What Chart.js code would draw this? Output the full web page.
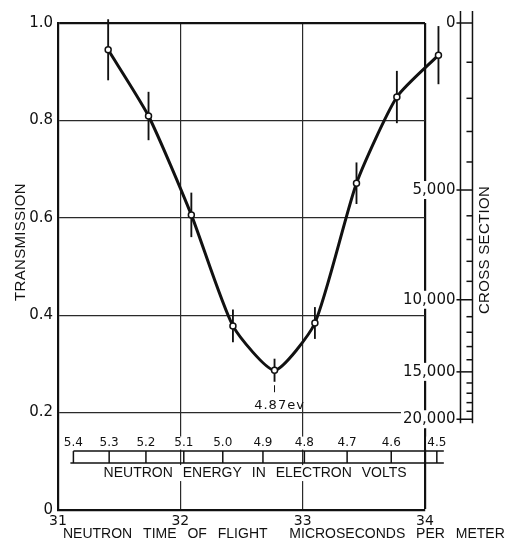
<!DOCTYPE html>
<html>
<head>
<meta charset="utf-8">
<script src="https://cdn.jsdelivr.net/npm/chart.js@4.4.1/dist/chart.umd.min.js"></script>
<style>
  html, body { margin: 0; padding: 0; background: #fff; }
</style>
</head>
<body>
<canvas id="chart" width="506" height="543"></canvas>
<script>
// ── DATA ──
const flightTimes  = [31.41, 31.74, 32.09, 32.43, 32.77, 33.10, 33.44, 33.77, 34.11];
const transmission = [0.945, 0.809, 0.606, 0.378, 0.287, 0.384, 0.671, 0.848, 0.934];
const errorHalf    = [0.062, 0.049, 0.045, 0.033, 0.023, 0.032, 0.042, 0.053, 0.059];

const timeTicks   = [31, 32, 33, 34];
const transTicks  = [0, 0.2, 0.4, 0.6, 0.8, 1.0];
const energyTicks = [5.4, 5.3, 5.2, 5.1, 5.0, 4.9, 4.8, 4.7, 4.6, 4.5];
const sigmaMajor  = [0, 5000, 10000, 15000, 20000];
const sigmaMinor  = [1000, 2000, 3000, 4000, 6000, 7000, 8000, 9000,
                     11000, 12000, 13000, 14000, 16000, 17000, 18000, 19000];
const resonanceLabel = '4.87ev';

// time of flight (us/m) = TOF_K / sqrt(E in eV);  T = exp(-SIGMA_K * sigma)
const TOF_K = 72.33;
const SIGMA_K = 8.4e-5;
const energyToTime = e => TOF_K / Math.sqrt(e);
const sigmaToTrans = s => Math.exp(-SIGMA_K * s);

// where the two extra scales sit
const SIGMA_AXIS_AT = 34.29;   // on the time axis
const ENERGY_AXIS_AT = 0.121;  // on the transmission axis

const INK = '#111';
const GRID = '#2a2a2a';

// points past the frame (x > 34) are skipped by Chart.js, draw them here
const outsidePoints = {
  id: 'outsidePoints',
  afterDatasetsDraw(chart) {
    const area = chart.chartArea;
    const meta = chart.getDatasetMeta(0);
    meta.data.forEach(pt => {
      if (pt.x > area.right || pt.x < area.left || pt.y < area.top || pt.y > area.bottom) pt.draw(chart.ctx);
    });
  }
};

// ── extra scales: energy ladder, cross-section ladder, titles ──
const auxAxes = {
  id: 'auxAxes',
  afterDraw(chart) {
    const { ctx, chartArea: area, scales: { x, y } } = chart;
    const seg = (x1, y1, x2, y2) => { ctx.beginPath(); ctx.moveTo(x1, y1); ctx.lineTo(x2, y2); ctx.stroke(); };
    const boxedText = (txt, px, py, pad, h) => {
      const w = ctx.measureText(txt).width;
      let left = px;
      if (ctx.textAlign === 'center') left = px - w / 2;
      else if (ctx.textAlign === 'right') left = px - w;
      ctx.fillStyle = '#fff';
      ctx.fillRect(left - pad, py - h / 2, w + pad * 2, h);
      ctx.fillStyle = INK;
      ctx.fillText(txt, px, py);
    };

    ctx.save();
    ctx.strokeStyle = INK;
    ctx.fillStyle = INK;
    ctx.lineWidth = 1.5;

    // cross section scale
    const xl = x.getPixelForValue(SIGMA_AXIS_AT);
    const xr = xl + 12;
    const ys = s => y.getPixelForValue(sigmaToTrans(s));
    const top = ys(0) - 12, bot = ys(20000) + 4;
    ctx.font = '15px "DejaVu Sans"';
    ctx.textAlign = 'right';
    ctx.textBaseline = 'middle';
    sigmaMajor.forEach(s => boxedText(s.toLocaleString('en-US'), xl - 5, ys(s), 2, 18));
    seg(xl, top, xl, bot);
    seg(xr, top, xr, bot);
    sigmaMinor.forEach(s => seg(xr - 6, ys(s), xr, ys(s)));
    sigmaMajor.forEach(s => seg(xl - 4, ys(s), xr, ys(s)));

    // energy scale
    const yu = y.getPixelForValue(ENERGY_AXIS_AT);
    const yl = yu + 12;
    const xe = e => x.getPixelForValue(energyToTime(e));
    const e0 = xe(energyTicks[0]), e1 = xe(energyTicks[energyTicks.length - 1]);
    ctx.font = '12px "DejaVu Sans"';
    ctx.textAlign = 'center';
    energyTicks.forEach(e => boxedText(e.toFixed(1), xe(e), yu - 8, 1, 13));
    ctx.font = '14px "Liberation Sans"';
    ctx.wordSpacing = '6px';
    boxedText('NEUTRON ENERGY IN ELECTRON VOLTS', (e0 + e1) / 2, yl + 10, 3, 16);
    ctx.wordSpacing = '0px';
    seg(e0, yu, e1 + 7, yu);
    seg(e0 - 3, yl, e1 + 7, yl);
    energyTicks.forEach(e => seg(xe(e), yu, xe(e), yl));

    // resonance annotation
    const px = x.getPixelForValue(flightTimes[4]);
    const py = y.getPixelForValue(transmission[4]);
    ctx.lineWidth = 1;
    seg(px, py + 15, px, py + 22);
    ctx.font = '13px "DejaVu Sans"';
    ctx.letterSpacing = '1px';
    ctx.fillText(resonanceLabel, px + 5, py + 35);
    ctx.letterSpacing = '0px';

    // axis titles
    ctx.font = '14px "Liberation Sans"';
    ctx.textAlign = 'left';
    ctx.wordSpacing = '7px';
    ctx.fillText('NEUTRON TIME OF FLIGHT  MICROSECONDS PER METER', area.left + 5, area.bottom + 24);
    ctx.wordSpacing = '0px';

    ctx.font = '15px "Liberation Sans"';
    ctx.textAlign = 'center';
    ctx.letterSpacing = '0.3px';
    ctx.save();
    ctx.translate(area.left - 37, 242);
    ctx.rotate(-Math.PI / 2);
    ctx.fillText('TRANSMISSION', 0, 0);
    ctx.restore();
    ctx.save();
    ctx.translate(xr + 12, 250);
    ctx.rotate(-Math.PI / 2);
    ctx.fillText('CROSS SECTION', 0, 0);
    ctx.restore();
    ctx.restore();
  }
};

// ── CHART ──
new Chart(document.getElementById('chart'), {
  type: 'line',
  data: {
    datasets: [
      {
        type: 'line',
        data: flightTimes.map((t, i) => ({ x: t, y: transmission[i] })),
        borderColor: INK,
        borderWidth: 3,
        tension: 0.2,
        pointRadius: 3,
        pointBorderWidth: 1.5,
        pointBackgroundColor: '#fff',
        pointBorderColor: INK,
        clip: false,
        order: 1,
      },
      {
        type: 'bar',
        data: flightTimes.map((t, i) => ({ x: t, y: [transmission[i] - errorHalf[i], transmission[i] + errorHalf[i]] })),
        backgroundColor: INK,
        barThickness: 1.2,
        clip: false,
        order: 2,
      }
    ]
  },
  options: {
    responsive: false,
    animation: false,
    devicePixelRatio: 1,
    layout: { padding: { top: 23, right: 81, left: 0, bottom: 0 } },
    plugins: { legend: { display: false }, tooltip: { enabled: false } },
    scales: {
      x: {
        type: 'linear',
        min: 31, max: 34,
        offset: false,
        afterBuildTicks: s => { s.ticks = timeTicks.map(v => ({ value: v })); },
        afterFit: s => { s.height = 33; },
        ticks: { color: INK, font: { family: 'DejaVu Sans', size: 14 }, padding: 3, maxRotation: 0 },
        grid: {
          offset: false,
          drawTicks: false,
          color: ctx => ctx.tick && ctx.tick.value === 34 ? INK : GRID,
          lineWidth: ctx => ctx.tick && ctx.tick.value === 34 ? 2.2 : 1.2,
        },
        border: { display: true, color: INK, width: 2.2 },
      },
      y: {
        type: 'linear',
        min: 0, max: 1,
        afterBuildTicks: s => { s.ticks = transTicks.map(v => ({ value: v })); },
        afterFit: s => { s.width = 58; },
        ticks: {
          color: INK,
          font: { family: 'DejaVu Sans', size: 15 },
          padding: 5,
          callback: v => v === 0 ? '0' : v.toFixed(1),
        },
        grid: {
          drawTicks: false,
          color: ctx => ctx.tick && ctx.tick.value === 1 ? INK : GRID,
          lineWidth: ctx => ctx.tick && ctx.tick.value === 1 ? 2.2 : 1.2,
        },
        border: { display: true, color: INK, width: 2.2 },
      }
    }
  },
  plugins: [outsidePoints, auxAxes]
});
</script>
</body>
</html>
